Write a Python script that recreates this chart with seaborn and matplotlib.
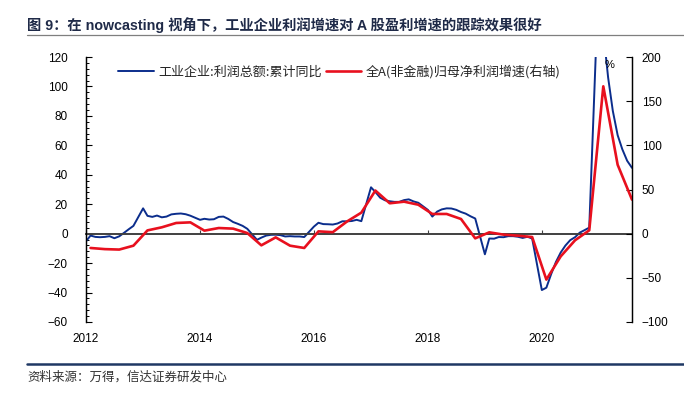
import numpy as np
import pandas as pd
import matplotlib
matplotlib.use("Agg")
import matplotlib.pyplot as plt
import seaborn as sns
from matplotlib.lines import Line2D
from matplotlib.ticker import MultipleLocator

# 工业企业:利润总额:累计同比 (%), months Feb-Dec (no January print)
profit_2012 = [-5.2, -1.3, -2.2, -2.4, -2.2, -1.7, -3.1, -1.8, 0.5, 3.0, 5.3]
profit_2013 = [17.2, 12.1, 11.4, 12.3, 11.1, 11.6, 13.1, 13.5, 13.7, 13.2, 12.2]
profit_2014 = [9.4, 10.1, 9.6, 9.8, 11.4, 11.6, 10.0, 7.9, 6.7, 5.3, 3.3]
profit_2015 = [-4.2, -2.7, -1.3, -0.8, -0.7, -1.0, -1.9, -1.7, -1.9, -1.9, -2.3]
profit_2016 = [4.8, 7.4, 6.5, 6.4, 6.2, 6.9, 8.4, 8.4, 8.6, 9.4, 8.5]
profit_2017 = [31.5, 28.3, 24.4, 22.7, 22.0, 21.6, 21.6, 22.8, 23.3, 21.9, 21.0]
profit_2018 = [16.1, 11.6, 15.0, 16.5, 17.2, 17.1, 16.2, 14.7, 13.6, 11.8, 10.3]
profit_2019 = [-14.0, -3.3, -3.4, -2.3, -2.4, -1.7, -1.7, -2.1, -2.9, -2.1, -3.3]
profit_2020 = [-38.3, -36.7, -27.4, -19.3, -12.8, -8.1, -4.4, -2.4, 0.7, 2.4, 4.1]
profit_2021 = [178.9, 137.3, 106.0, 83.4, 66.9, 57.3, 49.5, 44.7]

# 全A(非金融)归母净利润增速 (%), quarterly Q1-Q4, right axis
npat_2012 = [-16.2, -17.5, -18.0, -13.6]
npat_2013 = [3.7, 7.2, 12.1, 12.8]
npat_2014 = [3.4, 6.4, 5.7, 0.7]
npat_2015 = [-13.2, -4.2, -13.6, -16.2]
npat_2016 = [2.6, 1.7, 13.9, 23.8]
npat_2017 = [48.8, 34.4, 36.2, 32.8]
npat_2018 = [22.3, 22.3, 16.6, -5.3]
npat_2019 = [1.5, -1.1, -2.3, -3.8]
npat_2020 = [-52.0, -25.7, -7.5, 3.8]
npat_2021 = [166.8, 78.0, 38.5]

years = list(range(2012, 2022))
profit_by_year = [profit_2012, profit_2013, profit_2014, profit_2015, profit_2016,
                  profit_2017, profit_2018, profit_2019, profit_2020, profit_2021]
npat_by_year = [npat_2012, npat_2013, npat_2014, npat_2015, npat_2016,
                npat_2017, npat_2018, npat_2019, npat_2020, npat_2021]

tick_years = [2012, 2014, 2016, 2018, 2020]

title = "图 9：在 nowcasting 视角下，工业企业利润增速对 A 股盈利增速的跟踪效果很好"
source = "资料来源：万得，信达证券研发中心"
label_profit = "工业企业:利润总额:累计同比"
label_npat = "全A(非金融)归母净利润增速(右轴)"

# Build tidy frames
rows = []
for y, vals in zip(years, profit_by_year):
    for i, v in enumerate(vals):
        rows.append({"date": pd.Timestamp(y, i + 2, 1), "value": v})
df_profit = pd.DataFrame(rows)

rows = []
for y, vals in zip(years, npat_by_year):
    for i, v in enumerate(vals):
        rows.append({"date": pd.Timestamp(y, 3 * (i + 1), 1), "value": v})
df_npat = pd.DataFrame(rows)

sns.set_theme(style="white")
plt.rcParams["font.family"] = ["Liberation Sans", "Noto Sans CJK SC", "DejaVu Sans"]
plt.rcParams["axes.unicode_minus"] = True

blue = "#0b2d8c"
red = "#e8101e"
axis_grey = "#404040"

fig = plt.figure(figsize=(6.84, 3.94), dpi=100)
ax = fig.add_axes([86 / 684, 1 - 322 / 394, 546 / 684, 265 / 394])
ax2 = ax.twinx()

sns.lineplot(data=df_profit, x="date", y="value", ax=ax, color=blue,
             linewidth=1.4, label=label_profit, legend=False)
sns.lineplot(data=df_npat, x="date", y="value", ax=ax2, color=red,
             linewidth=1.9, label=label_npat, legend=False)

ax.set_xlim(pd.Timestamp(2012, 2, 1), pd.Timestamp(2021, 9, 1))
ax.set_ylim(-60, 120)
ax2.set_ylim(-100, 200)
for a in (ax, ax2):
    a.set_xlabel("")
    a.set_ylabel("")

# left axis
ax.yaxis.set_major_locator(MultipleLocator(20))
ax.yaxis.set_minor_locator(MultipleLocator(4))
ax.tick_params(axis="y", which="major", direction="in", length=4, width=0.8,
               colors="black", labelsize=8.5, pad=13, left=True)
ax.tick_params(axis="y", which="minor", direction="in", length=2.5, width=0.7,
               colors="black", left=True)

# right axis
ax2.yaxis.set_major_locator(MultipleLocator(50))
ax2.tick_params(axis="y", direction="in", length=4, width=0.8,
                colors="black", labelsize=8.5, pad=7, right=True)

for a in (ax, ax2):
    a.spines["top"].set_visible(False)
    a.spines["left"].set_color("black")
    a.spines["right"].set_color("black")
    a.spines["left"].set_linewidth(0.9)
    a.spines["right"].set_linewidth(0.9)

# zero line carries the small year ticks
ticks = [pd.Timestamp(y, 2, 1) for y in tick_years]
ax.set_xticks(ticks)
ax.spines["bottom"].set_position(("data", 0))
ax.spines["bottom"].set_color(axis_grey)
ax.spines["bottom"].set_linewidth(1.4)
ax.tick_params(axis="x", direction="in", length=3, width=0.8, colors=axis_grey,
               labelbottom=False, bottom=True)

# year labels at the bottom edge
ax2.xaxis.set_visible(True)
ax2.spines["bottom"].set_visible(False)
ax2.set_xticks(ticks)
ax2.set_xticklabels([str(y) for y in tick_years])
ax2.set_xlabel("")
ax2.tick_params(axis="x", length=0, labelbottom=True, labelsize=8.5, pad=8,
                labelcolor="black")

# legend
handles = [Line2D([], [], color=blue, lw=1.4), Line2D([], [], color=red, lw=1.9)]
leg = ax2.legend(handles, [label_profit, label_npat], loc="upper left",
                 bbox_to_anchor=(0.045, 1.0), ncol=2, frameon=False,
                 fontsize=9.4, handlelength=2.7, handletextpad=0.35,
                 columnspacing=0.3, borderaxespad=0.2)
for t in leg.get_texts():
    t.set_family(["Noto Sans CJK SC", "DejaVu Sans"])

ax2.text(0.958, 0.97, "%", transform=ax2.transAxes, fontsize=8,
         ha="center", va="center", color="black")

# header / footer
fig.text(27 / 684, 1 - 25.5 / 394, title, fontsize=10.3, fontweight="bold",
         color="#1f2a48", ha="left", va="center")
fig.add_artist(Line2D([27 / 684, 1.0], [1 - 34.5 / 394] * 2,
                      color="#7f7f7f", lw=0.9, transform=fig.transFigure))
fig.add_artist(Line2D([27 / 684, 1.0], [1 - 364 / 394] * 2,
                      color="#1f3864", lw=1.8, transform=fig.transFigure))
fig.text(27 / 684, 1 - 377 / 394, source, fontsize=9, style="italic",
         color="#333333", ha="left", va="center",
         family=["Noto Sans CJK SC", "DejaVu Sans"])

fig.savefig("out.png", dpi=100)
